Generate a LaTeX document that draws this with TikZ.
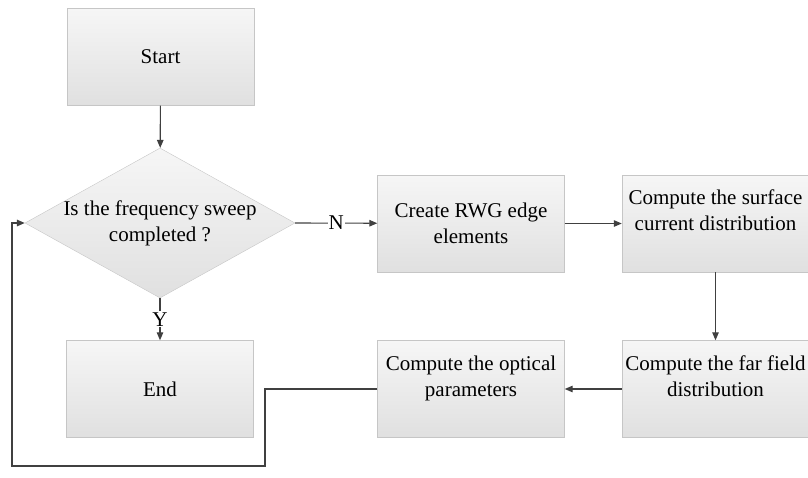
\documentclass[tikz,border=0pt]{standalone}
\usepackage{fontspec}
\setmainfont{Liberation Serif}
\definecolor{FlowLine}{RGB}{64,64,64}
\definecolor{FlowEdge}{RGB}{198,198,198}
\definecolor{FlowTop}{RGB}{246,246,246}
\definecolor{FlowBottom}{RGB}{224,224,224}
\usetikzlibrary{shapes.geometric, arrows.meta, positioning}

\begin{document}
\begin{tikzpicture}[x=1pt, y=-1pt,
    box/.style={draw=FlowEdge, top color=FlowTop, bottom color=FlowBottom,
                minimum width=187pt, minimum height=97pt, align=center,
                inner sep=2pt, font=\fontsize{21}{26}\selectfont},
    decision/.style={diamond, draw=FlowEdge, top color=FlowTop, bottom color=FlowBottom,
                minimum width=270pt, minimum height=150pt, inner sep=0pt},
    arr/.style={-{Triangle[length=8pt,width=6.5pt]}, line width=1.1pt, FlowLine},
    lbl/.style={fill=white, text=black, inner sep=1pt, font=\fontsize{21}{26}\selectfont}
  ]
    \useasboundingbox (0,0) rectangle (808,477);

    % Start and check
    \node[box] (start) at (160.5, 57) {Start};

    \node[decision] (dec) at (160, 223) {};
    \node[align=center, inner sep=0pt, font=\fontsize{21}{26}\selectfont] (qtext) at (dec)
      {Is the frequency sweep\\completed ?};

    \node[box] (stop) at (160, 389) {End};

    \draw[arr] (start) -- (dec);
    \draw[arr] (dec.south) -- node[lbl] (ylab) {Y} (stop);

    % Loop body
    \node[box] (rwg) at (471, 223.5) {Create RWG edge\\elements};

    \node[box] (surf) at (715.5, 223.5)
      {Compute the surface\\current distribution\\\mbox{}};

    \node[box] (far) at (715.5, 389)
      {Compute the far field\\distribution\\\mbox{}};

    \node[box] (optic) at (471, 389)
      {Compute the optical\\parameters\\\mbox{}};

    \draw[arr] (dec.east) -- node[lbl] (nlab) {N} (rwg);
    \draw[arr] (rwg) -- (surf);
    \draw[arr] (surf) -- (far);
    \draw[arr] (far) -- (optic);

    % Back to the check
    \coordinate (loopR) at (265, 466);
    \coordinate (loopL) at (12, 466);
    \draw[arr, line width=1.5pt] (optic.west) -| (loopR) -- (loopL) |- (dec.west);
  \end{tikzpicture}
\end{document}
